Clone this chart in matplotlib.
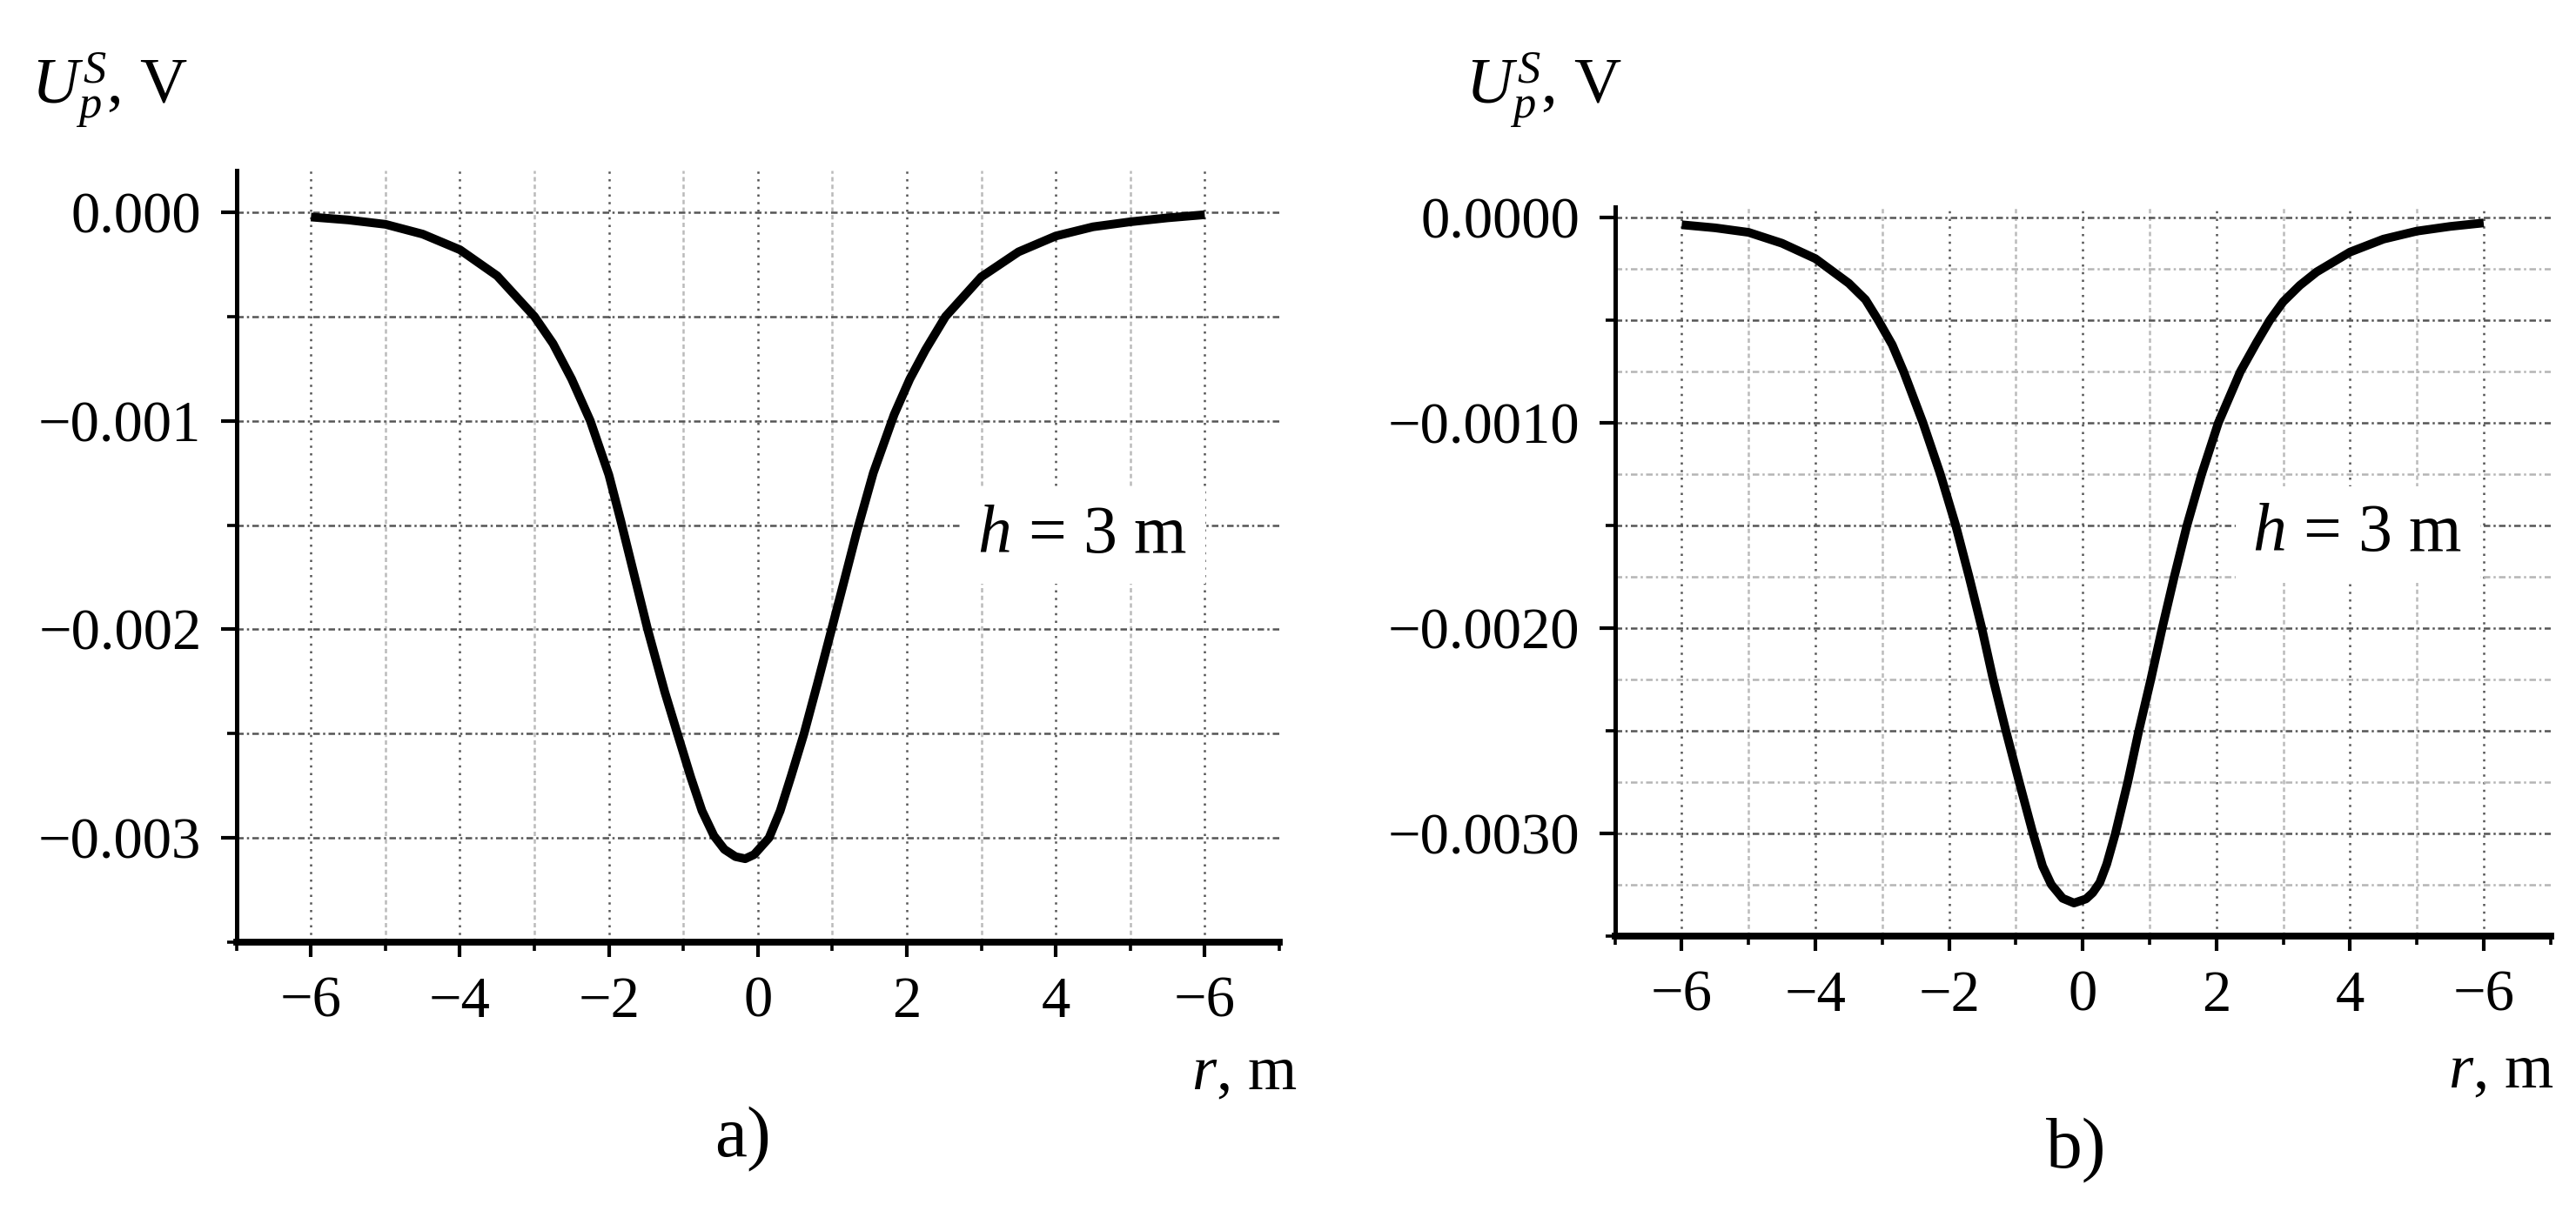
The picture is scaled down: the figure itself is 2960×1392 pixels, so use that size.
import matplotlib
matplotlib.use("Agg")
import matplotlib.pyplot as plt
import numpy as np

plt.rcParams['font.family'] = ['Liberation Serif', 'DejaVu Serif']
plt.rcParams['mathtext.fontset'] = 'custom'
plt.rcParams['mathtext.rm'] = 'Liberation Serif'
plt.rcParams['mathtext.it'] = 'Liberation Serif:italic'

# values (r in m, U in V)
r_a = [-6.0, -5.5, -5.0, -4.5, -4.0, -3.5, -3.0, -2.75, -2.5, -2.25, -2.0, -1.84,
       -1.66, -1.48, -1.25, -1.08, -0.9, -0.75, -0.59, -0.45, -0.3, -0.17, -0.05,
       0.15, 0.3, 0.45, 0.62, 0.8, 0.99, 1.15, 1.33, 1.55, 1.83, 2.04, 2.25, 2.52,
       3.0, 3.5, 4.0, 4.5, 5.0, 5.5, 6.0]
u_a = [-0.000023, -0.000037, -0.000058, -0.000105, -0.000180, -0.000305, -0.000500,
       -0.000630, -0.000800, -0.001000, -0.001260, -0.001480, -0.001740, -0.002000,
       -0.002300, -0.002500, -0.002710, -0.002870, -0.002990, -0.003055, -0.003090,
       -0.003100, -0.003080, -0.003000, -0.002870, -0.002700, -0.002500, -0.002260,
       -0.002000, -0.001780, -0.001530, -0.001250, -0.000970, -0.000800, -0.000660,
       -0.000500, -0.000310, -0.000190, -0.000114, -0.000070, -0.000046, -0.000027,
       -0.000012]

r_b = [-6.0, -5.5, -5.0, -4.5, -4.0, -3.5, -3.25, -3.06, -2.85, -2.68, -2.39, -2.13,
       -1.9, -1.7, -1.51, -1.34, -1.15, -0.95, -0.745, -0.6, -0.47, -0.3, -0.13,
       0.05, 0.15, 0.256, 0.36, 0.49, 0.675, 0.84, 1.02, 1.19, 1.37, 1.56, 1.78,
       2.03, 2.36, 2.6, 2.8, 3.0, 3.25, 3.5, 4.0, 4.5, 5.0, 5.5, 6.0]
u_b = [-0.000035, -0.000050, -0.000072, -0.000125, -0.000200, -0.000320, -0.000400,
       -0.000500, -0.000620, -0.000750, -0.001000, -0.001250, -0.001500, -0.001750,
       -0.002000, -0.002250, -0.002500, -0.002750, -0.003000, -0.003160, -0.003250,
       -0.003317, -0.003340, -0.003320, -0.003290, -0.003240, -0.003150, -0.003000,
       -0.002750, -0.002500, -0.002250, -0.002000, -0.001750, -0.001500, -0.001250,
       -0.001000, -0.000750, -0.000610, -0.000500, -0.000410, -0.000330, -0.000265,
       -0.000168, -0.000105, -0.000066, -0.000043, -0.000026]

x_ticks = [-6, -4, -2, 0, 2, 4, 6]
x_labels = ['\u22126', '\u22124', '\u22122', '0', '2', '4', '\u22126']
y_ticks = [0.0, -0.001, -0.002, -0.003]
y_labels_a = ['0.000', '\u22120.001', '\u22120.002', '\u22120.003']
y_labels_b = ['0.0000', '\u22120.0010', '\u22120.0020', '\u22120.0030']


def setup_axes(ax, ylim, hgrid_step, y_labels):
    ax.set_xlim(-7, 7)
    ax.set_ylim(*ylim)
    for s in ['top', 'right']:
        ax.spines[s].set_visible(False)
    ax.spines['left'].set_linewidth(1.8)
    ax.spines['bottom'].set_linewidth(2.8)
    # grid
    for xv in range(-6, 7):
        if xv % 2 == 0:
            ax.axvline(xv, color='#555555', lw=0.9, ls=(0, (1, 2.5)), zorder=1)
        else:
            ax.axvline(xv, color='#bbbbbb', lw=0.9, ls=(0, (2, 1.5)), zorder=1)
    for yv in np.arange(0, ylim[0] + 1e-9, -hgrid_step):
        if abs(yv / 0.0005 - round(yv / 0.0005)) < 1e-6:
            ax.axhline(yv, color='#555555', lw=0.9, ls=(0, (3, 1.5, 1, 1.5)), zorder=1)
        else:
            ax.axhline(yv, color='#b5b5b5', lw=0.9, ls=(0, (3, 1.5, 1, 1.5)), zorder=1)
    ax.set_xticks(x_ticks)
    ax.set_xticklabels(x_labels)
    ax.set_xticks(np.arange(-7, 8, 2), minor=True)
    ax.set_yticks(y_ticks)
    ax.set_yticklabels(y_labels)
    ax.set_yticks([-0.0005, -0.0015, -0.0025, -0.0035], minor=True)
    ax.tick_params(axis='x', which='major', length=6, width=1.5, pad=8, labelsize=24)
    ax.tick_params(axis='x', which='minor', length=3.5, width=1.3)
    ax.tick_params(axis='y', which='major', length=6.5, width=1.5, pad=8, labelsize=24)
    ax.tick_params(axis='y', which='minor', length=4, width=1.3)


fig = plt.figure(figsize=(14.8, 6.96), dpi=200)

ax_a = fig.add_axes([0.0918, 0.222, 0.4048, 0.6372])
setup_axes(ax_a, (-0.0035, 0.0002), 0.0005, y_labels_a)
ax_a.plot(r_a, u_a, color='black', lw=3.6, solid_joinstyle='round',
          solid_capstyle='butt', zorder=3)
ax_a.text(2.95, -0.00163, r'$h$ = 3 m' + '\u2003', fontsize=28, ha='left',
          va='baseline', zorder=2,
          bbox=dict(facecolor='white', edgecolor='none', boxstyle='square,pad=0.25'))

ax_b = fig.add_axes([0.6269, 0.2272, 0.3632, 0.6016])
setup_axes(ax_b, (-0.0035, 0.00005), 0.00025, y_labels_b)
ax_b.plot(r_b, u_b, color='black', lw=3.6, solid_joinstyle='round',
          solid_capstyle='butt', zorder=3)
ax_b.text(2.54, -0.001624, r'$h$ = 3 m' + '\u2003', fontsize=28, ha='left',
          va='baseline', zorder=2,
          bbox=dict(facecolor='white', edgecolor='none', boxstyle='square,pad=0.25'))

# axis titles
fig.text(36 / 2960, 1 - 119 / 1392, r'$U_{p}^{S}$, V', fontsize=27, ha='left', va='baseline')
fig.text(1684 / 2960, 1 - 119 / 1392, r'$U_{p}^{S}$, V', fontsize=27, ha='left', va='baseline')
fig.text(1490 / 2960, 1 - 1252 / 1392, r'$r$, m', fontsize=26, ha='right', va='baseline')
fig.text(2934 / 2960, 1 - 1250 / 1392, r'$r$, m', fontsize=26, ha='right', va='baseline')

fig.text(854 / 2960, 1 - 1329 / 1392, 'a)', fontsize=30, ha='center', va='baseline')
fig.text(2386 / 2960, 1 - 1342 / 1392, 'b)', fontsize=30, ha='center', va='baseline')

fig.savefig('out.png', dpi=200, facecolor='white')
